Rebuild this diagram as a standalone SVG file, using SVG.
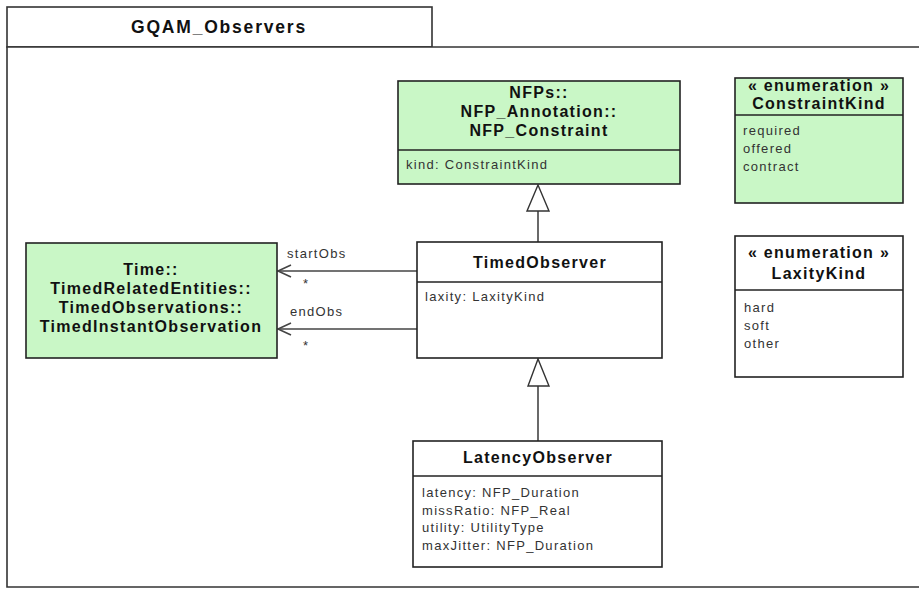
<svg xmlns="http://www.w3.org/2000/svg" width="919" height="589" viewBox="0 0 919 589">
<defs>
<style>
.frame{fill:#fff;stroke:#333;stroke-width:1.6}
.box{stroke:#222;stroke-width:1.6}
.g{fill:#c9f7c6}
.w{fill:#fff}
.div{stroke:#222;stroke-width:1.6}
.t{font-family:"Liberation Sans",Arial,sans-serif;font-weight:bold;font-size:16px;letter-spacing:1.3px;fill:#111;text-anchor:middle}
.a{font-family:"Liberation Sans",Arial,sans-serif;font-size:13px;letter-spacing:1.3px;fill:#333}
.l{font-family:"Liberation Sans",Arial,sans-serif;font-size:13px;letter-spacing:1.3px;fill:#333}
.c{stroke:#444;stroke-width:1.6;fill:none}
.gen{fill:#fff;stroke:#333;stroke-width:1.4}
</style>
</defs>
<rect width="919" height="589" fill="#fff"/>
<g id="package">
<rect class="frame" x="7" y="7" width="425" height="40"/>
<path class="frame" d="M7 47 H925 V587 H7 Z"/>
<text class="t" x="219" y="33" style="font-size:17.5px;letter-spacing:1.8px">GQAM_Observers</text>
</g>
<g id="connectors">
<line class="c" x1="538" y1="211" x2="538" y2="242"/>
<polygon class="gen" points="538,185 527,211 549,211"/>
<line class="c" x1="538" y1="386" x2="538" y2="441"/>
<polygon class="gen" points="538,359 528,386 549,386"/>
<line class="c" x1="417" y1="271" x2="278" y2="271"/>
<polyline class="c" points="291,265 278,271 291,277"/>
<line class="c" x1="417" y1="329" x2="278" y2="329"/>
<polyline class="c" points="291,323 278,329 291,335"/>
<text class="l" x="287" y="258">startObs</text>
<text class="l" x="303" y="288">*</text>
<text class="l" x="290" y="316">endObs</text>
<text class="l" x="303" y="350">*</text>
</g>
<g id="NFP_Constraint">
<rect class="box g" x="398" y="81" width="282" height="103"/>
<line class="div" x1="398" y1="150" x2="680" y2="150"/>
<text class="t" x="539" y="98">NFPs::</text>
<text class="t" x="539" y="117">NFP_Annotation::</text>
<text class="t" x="539" y="136">NFP_Constraint</text>
<text class="a" x="406" y="169">kind: ConstraintKind</text>
</g>
<g id="TimedObserver">
<rect class="box w" x="417" y="242" width="245" height="116"/>
<line class="div" x1="417" y1="282" x2="662" y2="282"/>
<text class="t" x="540" y="268">TimedObserver</text>
<text class="a" x="425" y="301">laxity: LaxityKind</text>
</g>
<g id="TimedInstantObservation">
<rect class="box g" x="26" y="243" width="251" height="115"/>
<text class="t" x="151" y="275">Time::</text>
<text class="t" x="151" y="294">TimedRelatedEntities::</text>
<text class="t" x="151" y="313">TimedObservations::</text>
<text class="t" x="151" y="332">TimedInstantObservation</text>
</g>
<g id="LatencyObserver">
<rect class="box w" x="413" y="441" width="249" height="126"/>
<line class="div" x1="413" y1="476" x2="662" y2="476"/>
<text class="t" x="538" y="463">LatencyObserver</text>
<text class="a" x="422" y="497">latency: NFP_Duration</text>
<text class="a" x="422" y="515">missRatio: NFP_Real</text>
<text class="a" x="422" y="532">utility: UtilityType</text>
<text class="a" x="422" y="550">maxJitter: NFP_Duration</text>
</g>
<g id="ConstraintKind">
<rect class="box g" x="735" y="78" width="168" height="125"/>
<line class="div" x1="735" y1="115" x2="903" y2="115"/>
<text class="t" x="819" y="91">« enumeration »</text>
<text class="t" x="819" y="109">ConstraintKind</text>
<text class="a" x="743" y="135">required</text>
<text class="a" x="743" y="153">offered</text>
<text class="a" x="743" y="171">contract</text>
</g>
<g id="LaxityKind">
<rect class="box w" x="735" y="236" width="168" height="141"/>
<line class="div" x1="735" y1="290" x2="903" y2="290"/>
<text class="t" x="819" y="258">« enumeration »</text>
<text class="t" x="819" y="279">LaxityKind</text>
<text class="a" x="744" y="312">hard</text>
<text class="a" x="744" y="330">soft</text>
<text class="a" x="744" y="348">other</text>
</g>
</svg>
